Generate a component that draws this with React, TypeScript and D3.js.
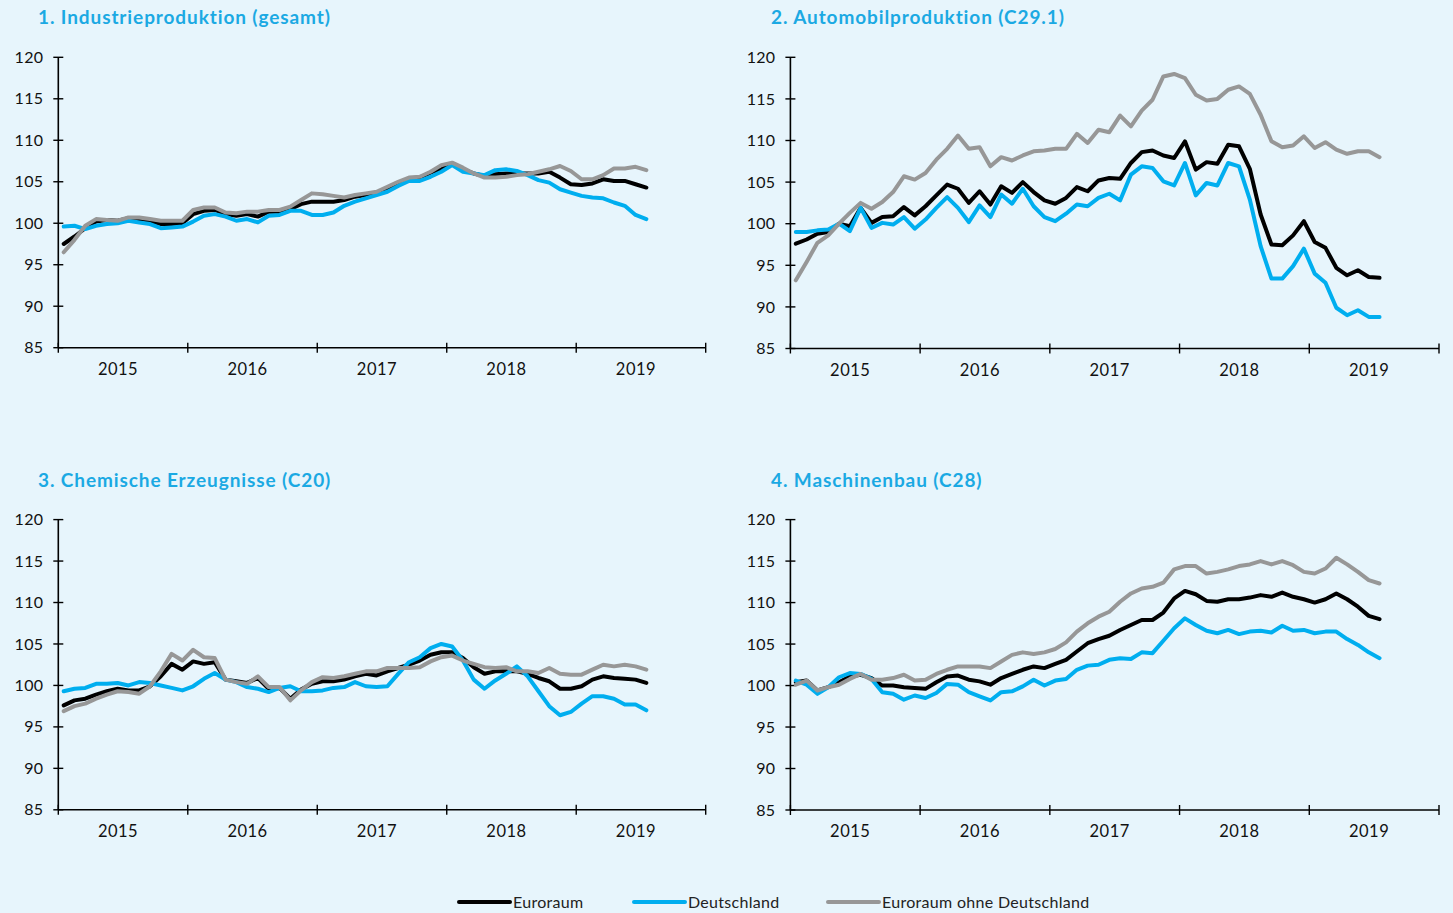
import React from "react";
import * as d3 from "d3";

// monthly categories Jan 2015 .. Dec 2019 (data ends Jul 2019)
const months = d3.timeMonth.range(new Date(2015, 0, 1), new Date(2020, 0, 1));
const yearLabels = ["2015", "2016", "2017", "2018", "2019"];
const yTicks = [85, 90, 95, 100, 105, 110, 115, 120];

const seriesNames = ["Euroraum", "Deutschland", "Euroraum ohne Deutschland"];
const seriesColors = ["#000000", "#00AEEF", "#979797"];

// 1. Industrieproduktion (gesamt)
const industryEA = [97.5, 98.4, 99.4, 100.2, 100.4, 100.3, 100.6, 100.5, 100.3, 99.9, 99.9, 100.0, 101.1, 101.5, 101.6, 101.1, 100.9, 101.1, 100.8, 101.4, 101.4, 101.7, 102.3, 102.6, 102.6, 102.6, 102.8, 103.2, 103.4, 103.6, 104.1, 104.7, 105.3, 105.5, 106.1, 106.5, 107.1, 106.5, 106.0, 105.7, 105.9, 106.0, 106.0, 106.0, 106.0, 106.2, 105.5, 104.7, 104.6, 104.8, 105.3, 105.1, 105.1, 104.7, 104.3];
const industryDE = [99.6, 99.7, 99.3, 99.7, 99.9, 100.0, 100.3, 100.1, 99.9, 99.4, 99.5, 99.6, 100.2, 100.9, 101.1, 100.8, 100.3, 100.5, 100.1, 100.9, 101.0, 101.5, 101.5, 101.0, 101.0, 101.3, 102.1, 102.6, 103.0, 103.4, 103.8, 104.5, 105.1, 105.1, 105.6, 106.2, 107.0, 106.2, 106.0, 105.8, 106.4, 106.5, 106.3, 105.8, 105.2, 104.9, 104.1, 103.7, 103.3, 103.1, 103.0, 102.5, 102.1, 101.0, 100.5];
const industryExDE = [96.5, 98.0, 99.7, 100.5, 100.4, 100.3, 100.7, 100.7, 100.5, 100.3, 100.3, 100.3, 101.6, 101.9, 101.9, 101.3, 101.2, 101.4, 101.4, 101.6, 101.6, 102.0, 102.8, 103.6, 103.5, 103.3, 103.1, 103.4, 103.6, 103.8, 104.4, 105.0, 105.5, 105.6, 106.2, 107.0, 107.3, 106.7, 106.0, 105.5, 105.5, 105.6, 105.8, 105.9, 106.2, 106.5, 106.9, 106.3, 105.3, 105.3, 105.8, 106.6, 106.6, 106.8, 106.4];

// 2. Automobilproduktion (C29.1)
const autoEA = [97.6, 98.1, 98.8, 99.0, 100.0, 99.7, 101.9, 100.1, 100.8, 100.9, 102.0, 101.0, 102.1, 103.4, 104.7, 104.2, 102.5, 103.9, 102.3, 104.5, 103.7, 105.0, 103.8, 102.8, 102.4, 103.1, 104.4, 103.9, 105.2, 105.5, 105.4, 107.3, 108.6, 108.8, 108.2, 107.9, 109.9, 106.5, 107.4, 107.2, 109.5, 109.3, 106.6, 101.1, 97.5, 97.4, 98.6, 100.3, 97.8, 97.1, 94.7, 93.8, 94.4, 93.6, 93.5];
const autoDE = [99.0, 99.0, 99.2, 99.3, 100.0, 99.1, 101.9, 99.5, 100.1, 99.9, 100.8, 99.4, 100.5, 101.9, 103.2, 101.9, 100.2, 102.2, 100.8, 103.5, 102.4, 104.2, 102.1, 100.8, 100.3, 101.2, 102.3, 102.1, 103.1, 103.6, 102.8, 105.9, 106.9, 106.7, 105.1, 104.6, 107.3, 103.4, 104.9, 104.6, 107.3, 106.9, 102.9, 97.3, 93.4, 93.4, 94.9, 97.0, 94.0, 92.9, 89.9, 89.0, 89.6, 88.8, 88.8];
const autoExDE = [93.2, 95.4, 97.7, 98.6, 100.0, 101.3, 102.5, 101.8, 102.6, 103.8, 105.7, 105.3, 106.1, 107.7, 109.0, 110.6, 109.0, 109.2, 106.9, 108.0, 107.6, 108.2, 108.7, 108.8, 109.0, 109.0, 110.8, 109.7, 111.3, 111.0, 113.0, 111.7, 113.6, 114.9, 117.7, 118.0, 117.5, 115.5, 114.8, 115.0, 116.1, 116.5, 115.6, 113.1, 109.9, 109.2, 109.4, 110.5, 109.1, 109.8, 108.9, 108.4, 108.7, 108.7, 108.0];

// 3. Chemische Erzeugnisse (C20)
const chemEA = [97.6, 98.2, 98.4, 98.9, 99.3, 99.6, 99.4, 99.4, 99.9, 101.1, 102.6, 101.9, 102.9, 102.6, 102.8, 100.7, 100.5, 100.3, 100.9, 99.6, 99.7, 98.4, 99.5, 100.2, 100.5, 100.5, 100.7, 101.1, 101.4, 101.2, 101.7, 102.1, 102.5, 103.0, 103.7, 104.0, 104.0, 103.3, 102.2, 101.4, 101.7, 101.7, 101.7, 101.4, 100.9, 100.5, 99.6, 99.6, 99.9, 100.7, 101.1, 100.9, 100.8, 100.7, 100.3];
const chemDE = [99.3, 99.6, 99.7, 100.2, 100.2, 100.3, 100.0, 100.4, 100.3, 100.0, 99.7, 99.4, 99.9, 100.8, 101.5, 100.7, 100.4, 99.8, 99.6, 99.2, 99.7, 99.9, 99.3, 99.3, 99.4, 99.7, 99.8, 100.4, 99.9, 99.8, 99.9, 101.4, 102.8, 103.4, 104.5, 105.0, 104.7, 103.0, 100.7, 99.6, 100.6, 101.4, 102.3, 101.1, 99.3, 97.5, 96.4, 96.8, 97.8, 98.7, 98.7, 98.4, 97.7, 97.7, 97.0];
const chemExDE = [96.9, 97.5, 97.8, 98.4, 98.9, 99.3, 99.2, 99.0, 99.9, 101.7, 103.8, 103.0, 104.3, 103.4, 103.3, 100.7, 100.4, 100.2, 101.1, 99.8, 99.8, 98.2, 99.4, 100.4, 101.0, 100.9, 101.1, 101.4, 101.7, 101.7, 102.1, 102.1, 102.1, 102.2, 102.9, 103.4, 103.6, 103.0, 102.6, 102.2, 102.1, 102.2, 101.7, 101.7, 101.5, 102.1, 101.4, 101.3, 101.3, 101.9, 102.5, 102.3, 102.5, 102.3, 101.9];

// 4. Maschinenbau (C28)
const machEA = [100.4, 100.6, 99.4, 99.8, 100.4, 101.1, 101.3, 100.9, 100.0, 100.0, 99.8, 99.7, 99.6, 100.4, 101.1, 101.2, 100.7, 100.5, 100.1, 100.9, 101.4, 101.9, 102.3, 102.1, 102.6, 103.1, 104.1, 105.1, 105.6, 106.0, 106.7, 107.3, 107.9, 107.9, 108.8, 110.5, 111.4, 111.0, 110.2, 110.1, 110.4, 110.4, 110.6, 110.9, 110.7, 111.2, 110.7, 110.4, 110.0, 110.4, 111.1, 110.4, 109.5, 108.4, 108.0];
const machDE = [100.6, 100.1, 99.0, 99.8, 101.0, 101.5, 101.4, 100.8, 99.2, 99.0, 98.3, 98.8, 98.5, 99.1, 100.2, 100.1, 99.2, 98.7, 98.2, 99.2, 99.3, 99.9, 100.7, 100.0, 100.6, 100.8, 101.9, 102.4, 102.5, 103.1, 103.3, 103.2, 104.0, 103.9, 105.4, 106.9, 108.1, 107.3, 106.6, 106.3, 106.7, 106.2, 106.5, 106.6, 106.4, 107.2, 106.6, 106.7, 106.3, 106.5, 106.5, 105.6, 104.9, 104.0, 103.3];
const machExDE = [100.1, 100.6, 99.4, 99.8, 100.1, 100.8, 101.4, 100.7, 100.7, 100.9, 101.3, 100.6, 100.7, 101.4, 101.9, 102.3, 102.3, 102.3, 102.1, 102.9, 103.7, 104.0, 103.8, 104.0, 104.4, 105.2, 106.5, 107.5, 108.3, 108.9, 110.1, 111.1, 111.7, 111.9, 112.4, 114.0, 114.4, 114.4, 113.5, 113.7, 114.0, 114.4, 114.6, 115.0, 114.6, 115.0, 114.5, 113.7, 113.5, 114.1, 115.4, 114.6, 113.7, 112.7, 112.3];

const FONT = "Lato, 'Open Sans', sans-serif";

type PanelProps = {
  title: string;
  left: number;
  right: number;
  top: number;
  bottom: number;
  titleX: number;
  titleY: number;
  series: number[][];
};

const Panel = ({ title, left, right, top, bottom, titleX, titleY, series }: PanelProps) => {
  const x = d3.scaleBand<number>().domain(months.map((_, i) => i)).range([left, right]).padding(0);
  const y = d3.scaleLinear().domain([85, 120]).range([bottom, top]);
  const line = d3
    .line<number>()
    .x((_, i) => (x(i) as number) + x.bandwidth() / 2)
    .y((d) => y(d));

  const yearStarts = d3.range(0, months.length + 1, 12).map((i) => left + i * x.bandwidth());

  return (
    <g>
      <text
        x={titleX}
        y={titleY}
        fontFamily={FONT}
        fontWeight={700}
        fontSize={19}
        letterSpacing={0.9}
        fill="#1BA9E3"
      >
        {title}
      </text>
      {/* y axis */}
      <line x1={left} x2={left} y1={top} y2={bottom} stroke="#000" strokeWidth={1.6} />
      {yTicks.map((t) => (
        <g key={t}>
          <line x1={left - 5} x2={left + 5} y1={y(t)} y2={y(t)} stroke="#000" strokeWidth={1.4} />
          <text
            x={left - 15}
            y={y(t)}
            dy="0.35em"
            textAnchor="end"
            fontFamily={FONT}
            fontSize={16}
            letterSpacing={0.3}
            fill="#111"
          >
            {t}
          </text>
        </g>
      ))}
      {/* x axis */}
      <line x1={left} x2={right} y1={bottom} y2={bottom} stroke="#000" strokeWidth={1.6} />
      {yearStarts.map((xs, i) => (
        <line key={i} x1={xs} x2={xs} y1={bottom - 5} y2={bottom + 5} stroke="#000" strokeWidth={1.4} />
      ))}
      {yearLabels.map((lab, i) => (
        <text
          key={lab}
          x={(yearStarts[i] + yearStarts[i + 1]) / 2 - 5}
          y={bottom + 27}
          textAnchor="middle"
          fontFamily={FONT}
          fontSize={16.5}
          letterSpacing={0.5}
          fill="#111"
        >
          {lab}
        </text>
      ))}
      {series.map((s, k) => (
        <path
          key={k}
          d={line(s) || ""}
          fill="none"
          stroke={seriesColors[k]}
          strokeWidth={4}
          strokeLinejoin="round"
          strokeLinecap="round"
        />
      ))}
    </g>
  );
};

const legendX = [459, 634, 828];

export default function App() {
  const width = 1453;
  const height = 913;
  return (
    <div style={{ position: "absolute", left: 0, top: 0 }}>
      <svg width={width} height={height} style={{ display: "block" }}>
        <rect width={width} height={height} fill="#E7F5FC" />
        <Panel
          title="1. Industrieproduktion (gesamt)"
          left={58.3}
          right={705.7}
          top={57.3}
          bottom={347.7}
          titleX={38}
          titleY={24}
          series={[industryEA, industryDE, industryExDE]}
        />
        <Panel
          title="2. Automobilproduktion (C29.1)"
          left={790.4}
          right={1439}
          top={57.3}
          bottom={348.5}
          titleX={771}
          titleY={24}
          series={[autoEA, autoDE, autoExDE]}
        />
        <Panel
          title="3. Chemische Erzeugnisse (C20)"
          left={58.3}
          right={705.7}
          top={519.6}
          bottom={809.8}
          titleX={38}
          titleY={487}
          series={[chemEA, chemDE, chemExDE]}
        />
        <Panel
          title="4. Maschinenbau (C28)"
          left={790.4}
          right={1439}
          top={519.6}
          bottom={810}
          titleX={771}
          titleY={487}
          series={[machEA, machDE, machExDE]}
        />
        {seriesNames.map((name, k) => (
          <g key={name}>
            <line
              x1={legendX[k]}
              x2={legendX[k] + 51}
              y1={902}
              y2={902}
              stroke={seriesColors[k]}
              strokeWidth={4}
              strokeLinecap="round"
            />
            <text
              x={legendX[k] + 54}
              y={902}
              dy="0.35em"
              fontFamily={FONT}
              fontSize={16}
              letterSpacing={0.3}
              fill="#222"
            >
              {name}
            </text>
          </g>
        ))}
      </svg>
    </div>
  );
}
